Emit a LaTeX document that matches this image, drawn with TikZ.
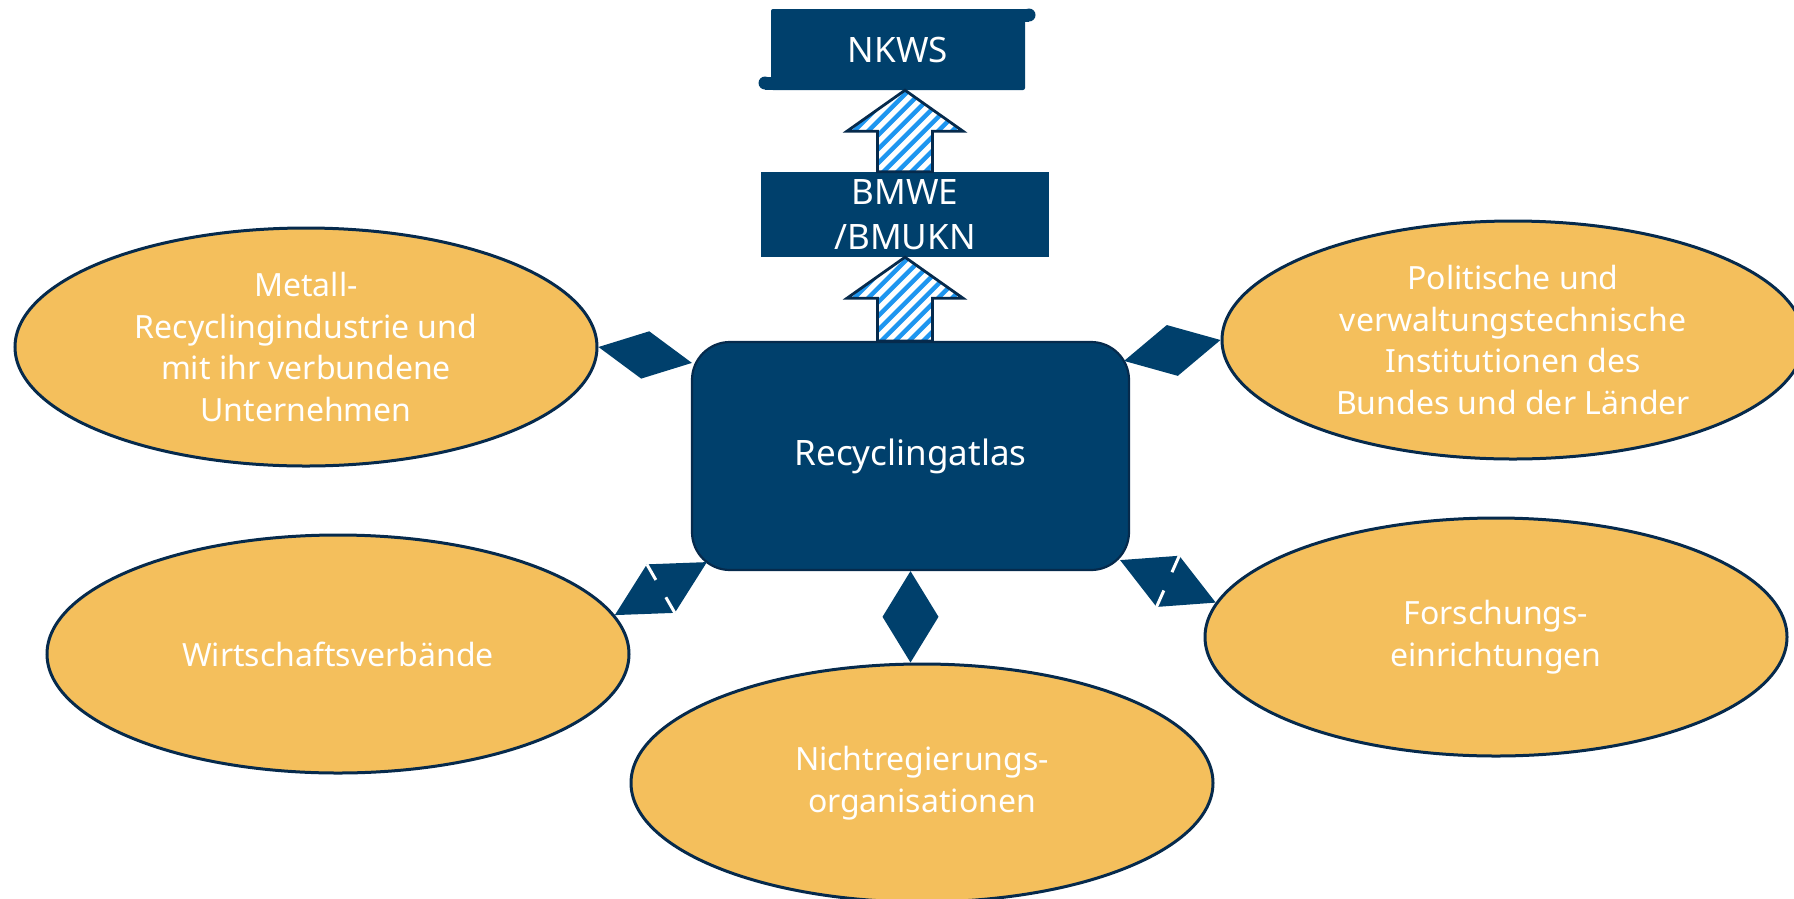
\documentclass[tikz,border=0pt]{standalone}
\usepackage{fontspec}
\setmainfont{Noto Sans}
\usetikzlibrary{calc,shapes.geometric}
\definecolor{navy}{RGB}{0,64,108}
\definecolor{navyline}{RGB}{6,42,76}
\definecolor{ellfill}{RGB}{244,191,92}
\definecolor{stripeblue}{RGB}{30,150,240}

% double-headed diamond connector between two points, half width #3
\newcommand\dblarrow[3]{%
  \fill[navy] (#1) -- ($(#1)!0.5!(#2)!#3!90:(#2)$) -- (#2) -- ($(#1)!0.5!(#2)!#3!-90:(#2)$) -- cycle;}
\newcommand\dblarrowcut[3]{%
  \dblarrow{#1}{#2}{#3}%
  \draw[white, line width=3pt, dash pattern=on 18pt off 20pt on 18pt]
    ($(#1)!0.5!(#2)!#3!90:(#2)$) -- ($(#1)!0.5!(#2)!#3!-90:(#2)$);}
% striped block arrow, #1 tip, #2 base
\newcommand\stripearrow[2]{%
  \begin{scope}
    \clip (#1) -- ($(#1)+(58,41)$) -- ($(#1)+(27.5,41)$) -- ($(#2)+(27.5,0)$) -- ($(#2)+(-27.5,0)$) -- ($(#1)+(-27.5,41)$) -- ($(#1)+(-58,41)$) -- cycle;
    \fill[white] ($(#1)+(-70,-5)$) rectangle ($(#2)+(70,5)$);
    \foreach \k in {-140,-126,...,140}
      \draw[stripeblue, line width=4.5pt] ($(#1)+(\k-100,160)$) -- ($(#1)+(\k+100,-40)$);
  \end{scope}
  \draw[navyline, line width=2.8pt, line join=miter]
    (#1) -- ($(#1)+(58,41)$) -- ($(#1)+(27.5,41)$) -- ($(#2)+(27.5,0)$) -- ($(#2)+(-27.5,0)$) -- ($(#1)+(-27.5,41)$) -- ($(#1)+(-58,41)$) -- cycle;}

\begin{document}
\begin{tikzpicture}[x=1pt,y=-1pt,
  ell/.style={ellipse, draw=navyline, line width=3pt, fill=ellfill,
    minimum width=582pt, minimum height=238pt, inner sep=0pt,
    text=white, align=center, font=\fontsize{32}{41.6}\selectfont},
  navybox/.style={rectangle, fill=navy, text=white, align=center, inner sep=0pt,
    font=\fontsize{35}{45}\selectfont}]
\useasboundingbox (0,0) rectangle (1794,898);

% ellipses
\node[ell] (e1) at (306,347) {Metall-\\Recyclingindustrie und\\mit ihr verbundene\\Unternehmen};
\node[ell] (e2) at (1513,340) {Politische und\\verwaltungstechnische\\Institutionen des\\Bundes und der Länder};
\node[ell] (e3) at (338,654) {Wirtschaftsverbände};
\node[ell] (e4) at (922,783) {Nichtregierungs-\\organisationen};
\node[ell] (e5) at (1496,637) {Forschungs-\\einrichtungen};

% central box
\node[navybox, draw=navyline, line width=2.2pt, rounded corners=38pt,
  minimum width=437pt, minimum height=228pt] (ra) at (910.5,456) {Recyclingatlas};

% connectors
\coordinate (d1b) at ($(ra.north west)+(1,22)$);
\dblarrow{e1.east}{d1b}{24pt}
\coordinate (d2a) at ($(ra.north east)+(-6,20)$);
\dblarrow{d2a}{e2.west}{26pt}
\coordinate (d3a) at ($(ra.south west)+(16,-9)$);
\dblarrowcut{d3a}{e3.8}{28pt}
\coordinate (d4a) at ($(ra.south east)+(-10,-11)$);
\dblarrowcut{d4a}{e5.173}{28pt}
\coordinate (d5b) at (ra.south |- e4.north);
\dblarrow{ra.south}{d5b}{28pt}

% upper boxes
\node[navybox, minimum width=288pt, minimum height=85pt] (bmwe) at (905,214.5) {BMWE\\/BMUKN};
\node[navybox, minimum width=254pt, minimum height=81pt, rounded corners=2pt] (nkws) at (898,49.5) {NKWS};
% scroll ends
\fill[navy] (1020,8.5) rectangle (1029,21.5);
\fill[navy] (1029,15) circle[radius=6.5pt];
\fill[navy] (765,76.5) rectangle (775,89.5);
\fill[navy] (765,83) circle[radius=6.5pt];

% striped arrows
\coordinate (t1) at (nkws.south -| bmwe.north);
\coordinate (b1) at (bmwe.north);
\coordinate (t2) at (bmwe.south);
\coordinate (b2) at (bmwe.south |- ra.north);
\stripearrow{t1}{b1}
\stripearrow{t2}{b2}
\end{tikzpicture}
\end{document}
